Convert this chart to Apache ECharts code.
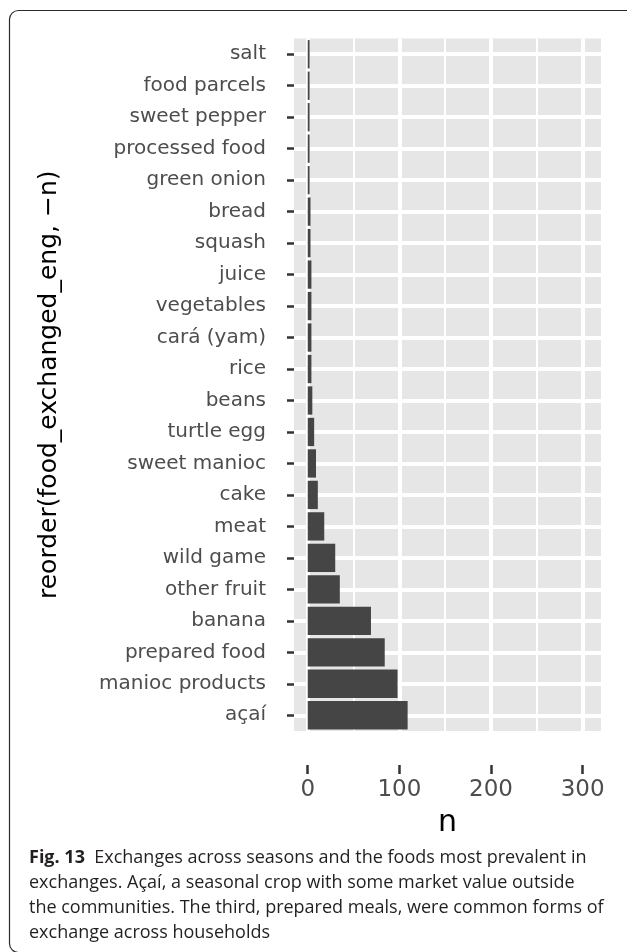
<!DOCTYPE html>
<html>
<head>
<meta charset="utf-8">
<script src="https://cdn.jsdelivr.net/npm/echarts@6/dist/echarts.min.js"></script>
<style>
  html, body { margin: 0; padding: 0; background: #ffffff; }
  #chart { width: 627px; height: 952px; }
</style>
</head>
<body>
<div id="chart"></div>
<script>
// Categories in factor order (first = bottom of the chart)
const categories = [
  'açaí', 'manioc products', 'prepared food', 'banana', 'other fruit',
  'wild game', 'meat', 'cake', 'sweet manioc', 'turtle egg', 'beans',
  'rice', 'cará (yam)', 'vegetables', 'juice', 'squash', 'bread',
  'green onion', 'processed food', 'sweet pepper', 'food parcels', 'salt'
];
// Count of exchanges (n)
const counts = [
  109, 98, 84, 69, 35,
  30, 18, 11, 9, 7, 5,
  4, 4, 4, 4, 3, 3,
  2, 2, 2, 2, 2
];
const xTicks = [0, 100, 200, 300];
const xMinorTicks = [50, 150, 250];
const xTitle = 'n';
const yTitle = 'reorder(food_exchanged_eng, \u2212n)';
const captionBold = 'Fig. 13';
const captionLines = [
  'Exchanges across seasons and the foods most prevalent in',
  'exchanges. Açaí, a seasonal crop with some market value outside',
  'the communities. The third, prepared meals, were common forms of',
  'exchange across households'
];

const rowCenters = categories.map((_, i) => i + 0.5);

const chart = echarts.init(document.getElementById('chart'), null, { renderer: 'canvas' });
chart.setOption({
  animation: false,
  backgroundColor: '#ffffff',
  title: {
    left: 24,
    top: 840,
    text: '{b|' + captionBold + '}  ' + captionLines.join('\n'),
    textStyle: {
      fontFamily: 'Open Sans',
      fontSize: 18,
      fontWeight: 'normal',
      color: '#231f20',
      lineHeight: 25,
      rich: {
        b: { fontFamily: 'Open Sans', fontWeight: 'bold', fontSize: 18, color: '#231f20', lineHeight: 25 }
      }
    }
  },
  graphic: [{
    type: 'rect',
    silent: true,
    z: 100,
    shape: { x: 9.5, y: 10.5, width: 660, height: 942, r: 9 },
    style: { fill: null, stroke: '#2a2a2a', lineWidth: 1.2 }
  }],
  grid: {
    left: 294, right: 26, top: 38.5, bottom: 221,
    show: true, backgroundColor: '#e6e6e6', borderWidth: 0
  },
  xAxis: [{
    type: 'value',
    min: -15, max: 320,
    position: 'bottom',
    offset: 34,
    axisLine: { show: false, onZero: false },
    axisTick: { show: true, length: 9, customValues: xTicks, lineStyle: { color: '#333333', width: 2.5 } },
    axisLabel: { customValues: xTicks, fontFamily: 'DejaVu Sans', fontSize: 23, color: '#4d4d4d', margin: 14 },
    splitLine: { show: true, lineStyle: { color: '#ffffff', width: 4 } },
    name: xTitle,
    nameLocation: 'middle',
    nameGap: 43,
    nameTextStyle: { fontFamily: 'DejaVu Sans', fontSize: 30, color: '#000000' }
  }, {
    type: 'value',
    min: -15, max: 320,
    position: 'bottom',
    axisLine: { show: false, onZero: false },
    axisTick: { show: false, customValues: xMinorTicks },
    axisLabel: { show: false, customValues: xMinorTicks },
    splitLine: { show: true, lineStyle: { color: '#ffffff', width: 2 } }
  }],
  yAxis: [{
    type: 'category',
    data: categories,
    position: 'left',
    axisLine: { show: false, onZero: false },
    axisTick: { show: true, alignWithLabel: true, length: 7, lineStyle: { color: '#333333', width: 2.5 } },
    axisLabel: { fontFamily: 'DejaVu Sans', fontSize: 20, color: '#4d4d4d', margin: 28 },
    splitLine: { show: false },
    name: yTitle,
    nameLocation: 'middle',
    nameGap: 232,
    nameTextStyle: { fontFamily: 'DejaVu Sans', fontSize: 25, color: '#000000' }
  }, {
    type: 'value',
    min: 0, max: categories.length,
    position: 'left',
    axisLine: { show: false, onZero: false },
    axisTick: { show: false, customValues: rowCenters },
    axisLabel: { show: false, customValues: rowCenters },
    splitLine: { show: true, lineStyle: { color: '#ffffff', width: 4 } }
  }],
  series: [{
    type: 'bar',
    xAxisIndex: 0,
    yAxisIndex: 0,
    data: counts,
    barCategoryGap: '10%',
    itemStyle: { color: '#454545' }
  }]
});
</script>
</body>
</html>
